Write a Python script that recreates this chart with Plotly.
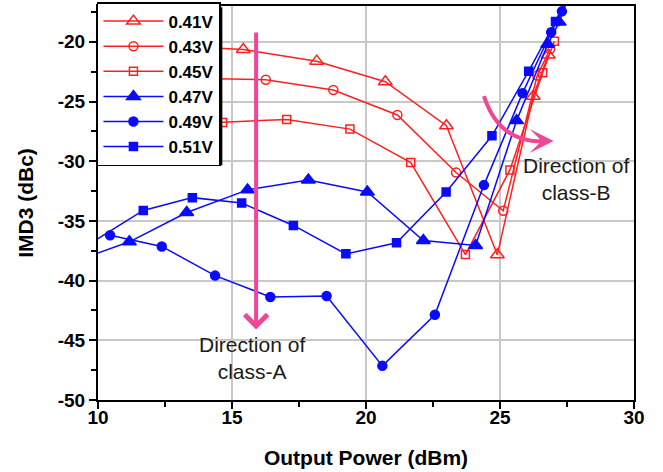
import plotly.graph_objects as go

# ---- data ----
x_041 = [12.5, 15.42, 18.16, 20.72, 23.00, 24.90, 26.24, 26.80]
y_041 = [-20.3, -20.65, -21.62, -23.34, -27.03, -37.84, -24.56, -21.10]

x_043 = [12.5, 16.26, 18.78, 21.17, 23.36, 25.12, 26.39, 26.87]
y_043 = [-23.0, -23.17, -24.03, -26.13, -30.95, -34.15, -22.83, -20.60]

x_045 = [12.0, 14.65, 17.04, 19.40, 21.67, 23.71, 25.37, 26.59, 27.03]
y_045 = [-27.0, -26.75, -26.50, -27.31, -30.11, -37.82, -30.73, -22.60, -19.95]

x_047 = [9.6, 11.17, 13.31, 15.58, 17.85, 20.05, 22.14, 24.09, 25.62, 26.78, 27.21, 27.6]
y_047 = [-38.0, -36.75, -34.30, -32.40, -31.57, -32.58, -36.64, -37.06, -26.60, -20.20, -18.35, -16.0]

x_049 = [10.45, 12.38, 14.37, 16.43, 18.53, 20.61, 22.57, 24.40, 25.84, 26.91, 27.31, 27.7]
y_049 = [-36.20, -37.14, -39.58, -41.37, -41.29, -47.14, -42.86, -32.00, -24.30, -19.20, -17.45, -15.5]

x_051 = [9.7, 11.69, 13.52, 15.36, 17.29, 19.25, 21.14, 22.99, 24.70, 26.07, 27.07, 27.43]
y_051 = [-36.9, -34.12, -33.05, -33.50, -35.38, -37.76, -36.83, -32.58, -27.87, -22.46, -18.30, -16.5]

names = ["0.41V", "0.43V", "0.45V", "0.47V", "0.49V", "0.51V"]
xt = [10, 15, 20, 25, 30]
yt = [-50, -45, -40, -35, -30, -25, -20]

RED = "#ff1f1f"
BLUE = "#0a0aff"
PINK = "#ef4696"
FONT = "Liberation Sans, Arial, sans-serif"

series = [
    (x_041, y_041, names[0], RED, "triangle-up-open", 12),
    (x_043, y_043, names[1], RED, "circle-open", 9),
    (x_045, y_045, names[2], RED, "square-open", 8),
    (x_047, y_047, names[3], BLUE, "triangle-up", 12),
    (x_049, y_049, names[4], BLUE, "circle", 9),
    (x_051, y_051, names[5], BLUE, "square", 8),
]

fig = go.Figure()
for xs, ys, nm, col, sym, sz in series:
    fig.add_trace(go.Scatter(
        x=xs, y=ys, name=nm, mode="lines+markers",
        line=dict(color=col, width=1.5),
        marker=dict(symbol=sym, size=sz, color=col, line=dict(color=col, width=1.5)),
    ))

axis_common = dict(
    showline=True, linecolor="black", linewidth=2, mirror=True,
    ticks="outside", ticklen=7, tickwidth=2, tickcolor="black",
    showgrid=True, gridcolor="#c8c8c8", gridwidth=1.5,
    zeroline=False, automargin=False,
    tickfont=dict(family=FONT, size=19, color="black", weight="bold"),
)

fig.update_xaxes(
    range=[10, 30], tickvals=xt, ticktext=[str(v) for v in xt],
    ticklabelstandoff=-8,
    minor=dict(ticks="outside", ticklen=5, tickwidth=2, tickcolor="black", dtick=2.5, tick0=10, showgrid=False),
    title=dict(text="<b>Output Power (dBm)</b>", font=dict(family=FONT, size=21, color="black"), standoff=24),
    **axis_common,
)
fig.update_yaxes(
    range=[-50, -17], tickvals=yt, ticktext=[str(v) for v in yt],
    minor=dict(ticks="outside", ticklen=5, tickwidth=2, tickcolor="black", dtick=2.5, tick0=-50, showgrid=False),
    title=dict(text="<b>IMD3 (dBc)</b>", font=dict(family=FONT, size=21, color="black"), standoff=18),
    **axis_common,
)

# legend shadow
fig.add_shape(type="rect", xref="paper", yref="paper",
              x0=0.0075, x1=0.232, y0=0.596, y1=0.997,
              fillcolor="black", line=dict(width=0), layer="above")

# class-A arrow
fig.add_annotation(x=15.9, y=-44.1, ax=15.9, ay=-19.1, axref="x", ayref="y",
                   xref="x", yref="y", text="", showarrow=True,
                   arrowhead=4, arrowsize=1.1, arrowwidth=4, arrowcolor=PINK)
fig.add_annotation(x=15.75, y=-46.5, xref="x", yref="y",
                   text="Direction of<br>class-A", showarrow=False,
                   font=dict(family=FONT, size=21, color="#1a1a1a"))

# class-B curved arrow
fig.add_shape(type="path", xref="x", yref="y",
              path="M 24.40,-24.54 Q 24.95,-28.3 26.5,-28.35",
              line=dict(color=PINK, width=4), layer="above")
fig.add_annotation(x=27.0, y=-28.3, ax=-16, ay=0, xref="x", yref="y",
                   text="", showarrow=True,
                   arrowhead=3, arrowsize=1.0, arrowwidth=4, arrowcolor=PINK)
fig.add_annotation(x=27.84, y=-31.5, xref="x", yref="y",
                   text="Direction of<br>class-B", showarrow=False,
                   font=dict(family=FONT, size=21, color="#1a1a1a"))

fig.update_layout(
    width=663, height=472,
    margin=dict(l=98, r=29, t=6, b=72, autoexpand=False),
    plot_bgcolor="white", paper_bgcolor="white",
    showlegend=True,
    legend=dict(x=-0.002, y=1.01, xanchor="left", yanchor="top",
                bgcolor="white", bordercolor="black", borderwidth=1.5,
                font=dict(family=FONT, size=17, color="black", weight="bold"),
                itemwidth=60, tracegroupgap=0),
)

fig.write_html("out.html", config={"displayModeBar": False},
               post_script="document.body.style.margin='0';")
